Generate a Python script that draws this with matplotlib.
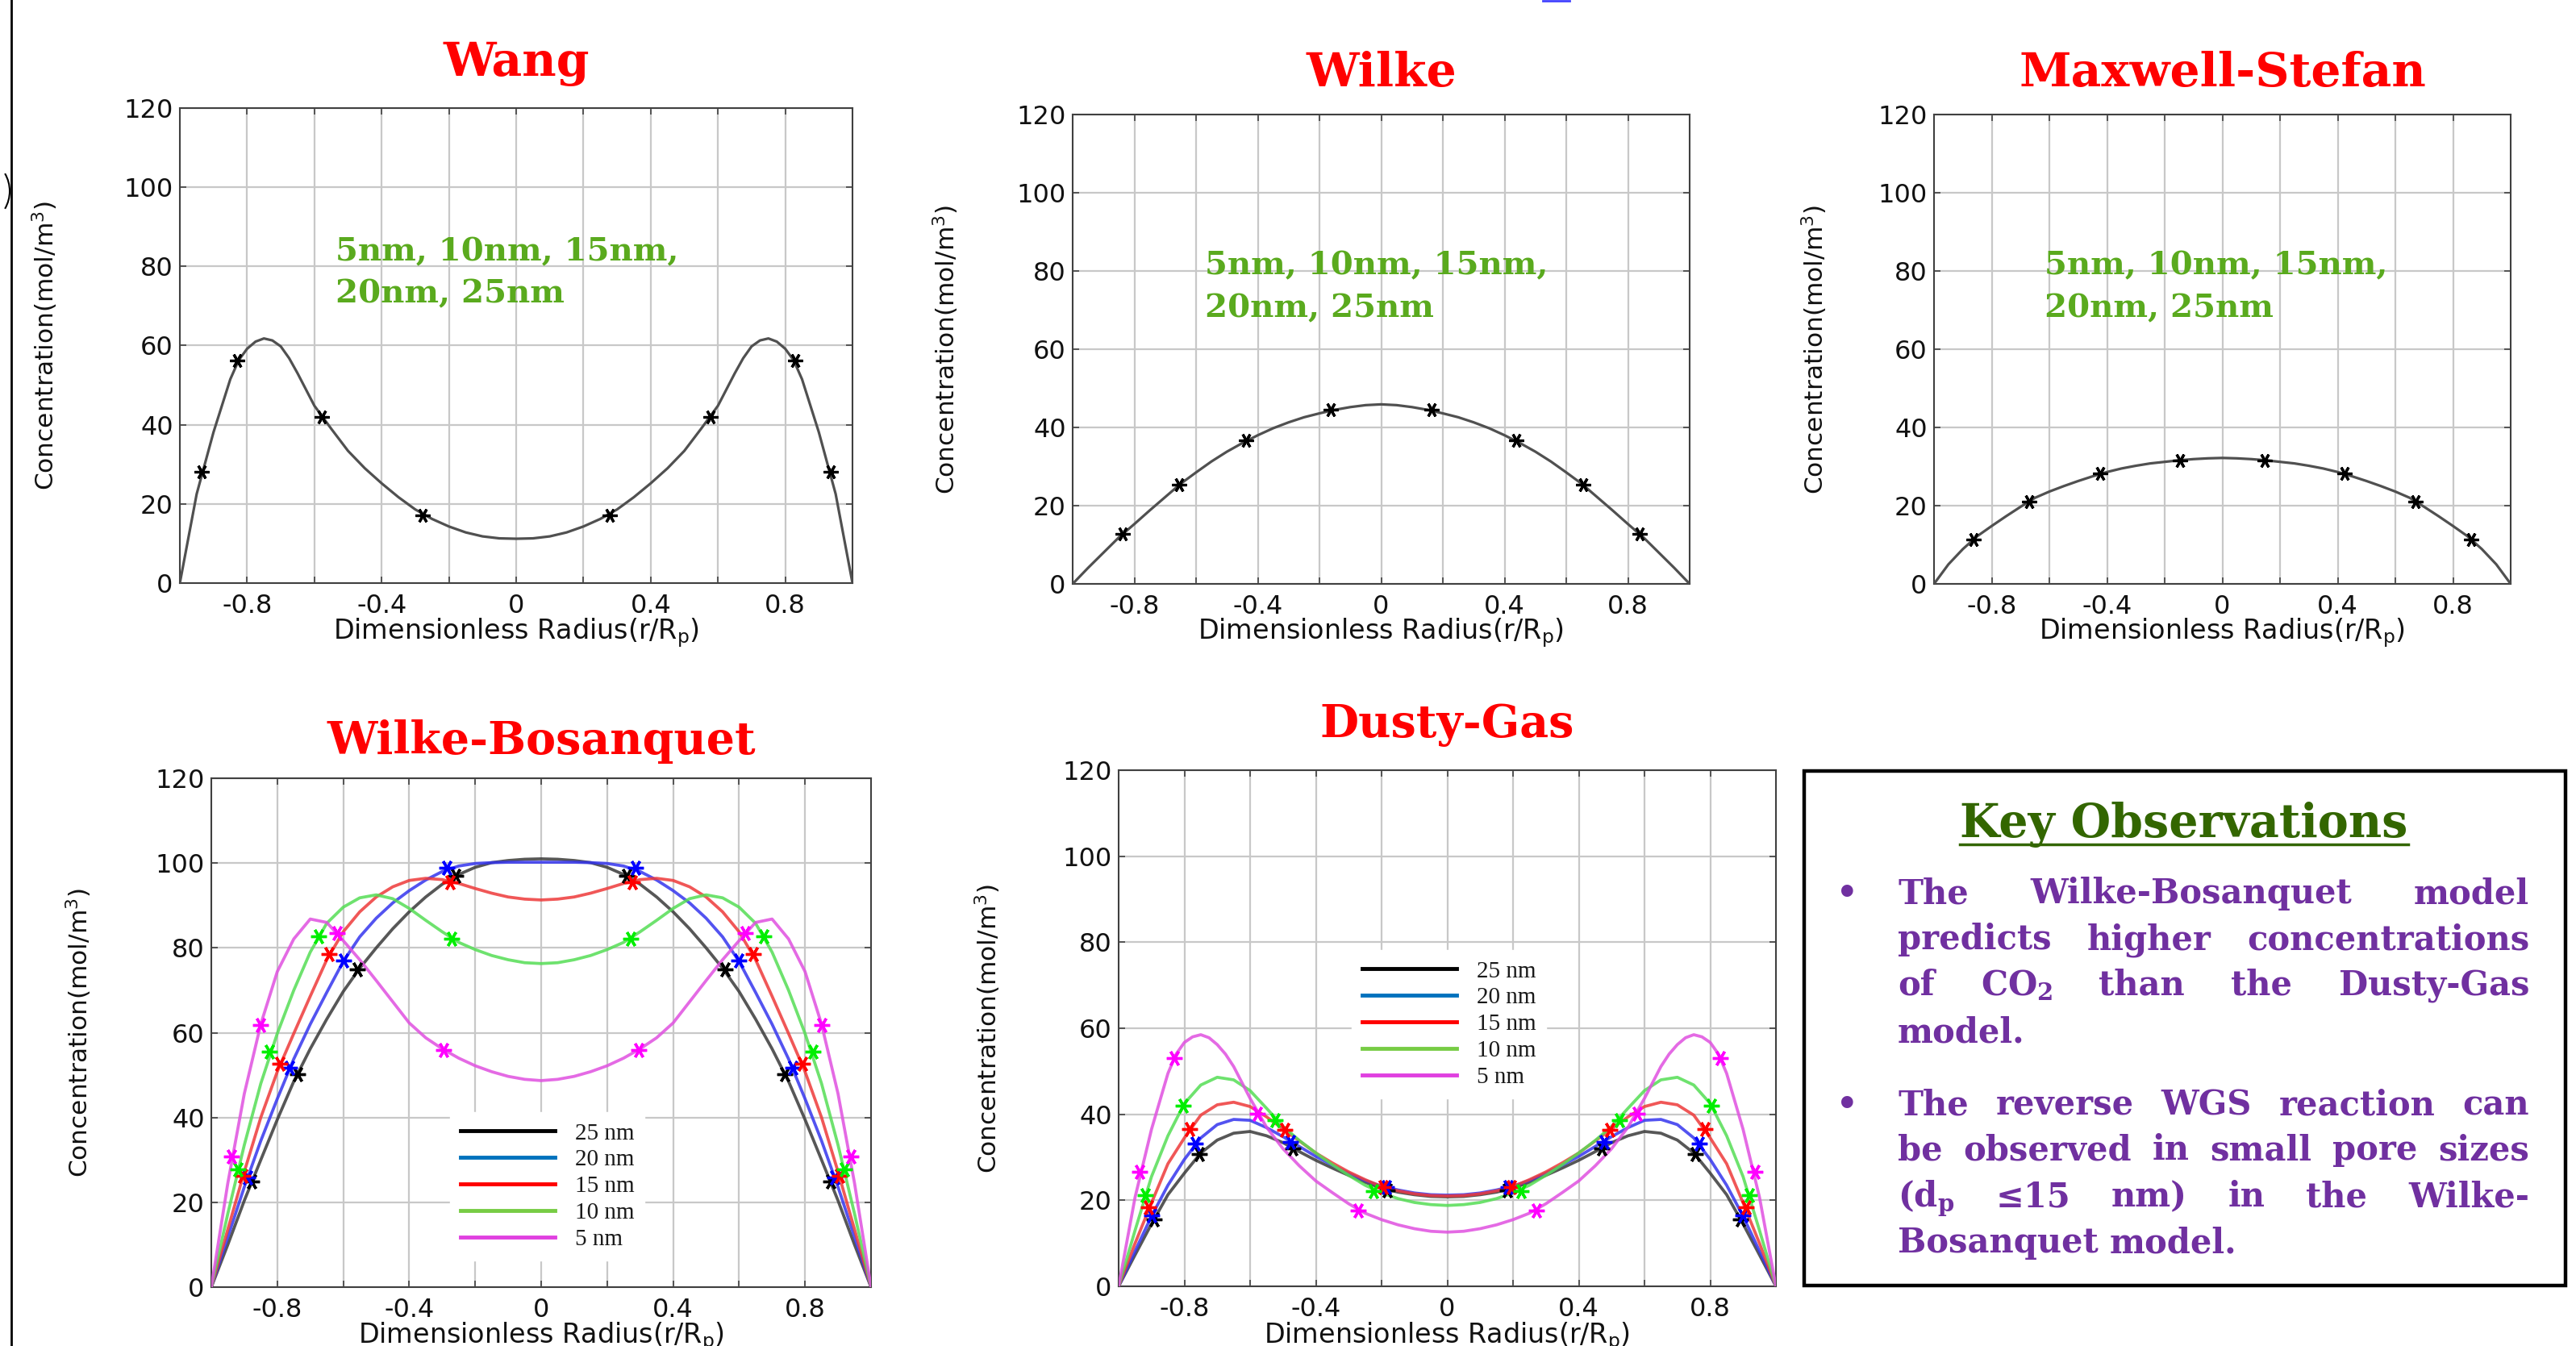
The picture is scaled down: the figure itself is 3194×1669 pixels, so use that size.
import matplotlib
matplotlib.use('Agg')
import matplotlib.pyplot as plt
from matplotlib.patches import Rectangle, Arc
from matplotlib.lines import Line2D
from matplotlib.ticker import FixedLocator, FixedFormatter

# ---------------- data ----------------
RADIUS = [-1.0, -0.95, -0.9, -0.85, -0.8, -0.75, -0.7, -0.65, -0.6, -0.55, -0.5,
          -0.45, -0.4, -0.35, -0.3, -0.25, -0.2, -0.15, -0.1, -0.05, 0.0,
          0.05, 0.1, 0.15, 0.2, 0.25, 0.3, 0.35, 0.4, 0.45, 0.5,
          0.55, 0.6, 0.65, 0.7, 0.75, 0.8, 0.85, 0.9, 0.95, 1.0]

# Wang and Dusty-Gas 5 nm have sharper peaks, so they are read at extra radii
PEAK_RADIUS = [-1.0, -0.95, -0.9, -0.85, -0.825, -0.8, -0.775, -0.75, -0.725, -0.7, -0.675, -0.65, -0.6, -0.55, -0.5,
               -0.45, -0.4, -0.35, -0.3, -0.25, -0.2, -0.15, -0.1, -0.05, 0.0,
               0.05, 0.1, 0.15, 0.2, 0.25, 0.3, 0.35, 0.4, 0.45, 0.5,
               0.55, 0.6, 0.65, 0.675, 0.7, 0.725, 0.75, 0.775, 0.8, 0.825, 0.85, 0.9, 0.95, 1.0]

WANG = [0, 22.5, 38.1, 51.5, 56.3, 59.2, 61.0, 61.8, 61.3, 59.8, 56.8, 53.0, 44.8, 39.0, 33.4,
        29.0, 25.2, 21.7, 18.6, 16.2, 14.3, 12.8, 11.8, 11.3, 11.2,
        11.3, 11.8, 12.8, 14.3, 16.2, 18.6, 21.7, 25.2, 29.0, 33.4,
        39.0, 44.8, 53.0, 56.8, 59.8, 61.3, 61.8, 61.0, 59.2, 56.3, 51.5, 38.1, 22.5, 0]
WILKE = [0, 4.1, 8.0, 11.9, 15.3, 18.8, 22.2, 25.6, 28.5, 31.3, 33.8, 36.0, 38.0, 39.8, 41.3, 42.6, 43.6, 44.5, 45.2, 45.7, 45.9,
         45.7, 45.2, 44.5, 43.6, 42.6, 41.3, 39.8, 38.0, 36.0, 33.8, 31.3, 28.5, 25.6, 22.2, 18.8, 15.3, 11.9, 8.0, 4.1, 0]
MAXSTEF = [0, 5.0, 8.9, 12.2, 14.8, 17.3, 19.7, 22.0, 23.6, 25.0, 26.3, 27.5, 28.6, 29.5, 30.2, 30.8, 31.2, 31.6, 31.9, 32.1, 32.2,
           32.1, 31.9, 31.6, 31.2, 30.8, 30.2, 29.5, 28.6, 27.5, 26.3, 25.0, 23.6, 22.0, 19.7, 17.3, 14.8, 12.2, 8.9, 5.0, 0]

WANG_MX = [-0.936, -0.83, -0.578, -0.278, 0.278, 0.578, 0.83, 0.936]
WANG_MY = [28.1, 56.2, 42.0, 17.2, 17.2, 42.0, 56.2, 28.1]
WILKE_MX = [-0.838, -0.655, -0.438, -0.163, 0.163, 0.438, 0.655, 0.838]
WILKE_MY = [12.8, 25.3, 36.6, 44.5, 44.5, 36.6, 25.3, 12.8]
MAXSTEF_MX = [-0.864, -0.671, -0.424, -0.147, 0.147, 0.424, 0.671, 0.864]
MAXSTEF_MY = [11.4, 21.1, 28.2, 31.6, 31.6, 28.2, 21.1, 11.4]

PORE_LABELS = ['25 nm', '20 nm', '15 nm', '10 nm', '5 nm']

WB_25 = [0, 10.0, 20.4, 30.0, 39.5, 48.5, 56.2, 63.2, 69.7, 75.2, 80.0, 84.5, 88.5, 92.0, 95.0, 97.3, 99.0, 100.1, 100.6, 100.9, 101.0,
         100.9, 100.6, 100.1, 99.0, 97.3, 95.0, 92.0, 88.5, 84.5, 80.0, 75.2, 69.7, 63.2, 56.2, 48.5, 39.5, 30.0, 20.4, 10.0, 0]
WB_20 = [0, 11.8, 23.6, 34.5, 44.4, 53.8, 62.0, 69.5, 76.8, 82.6, 87.0, 90.6, 93.5, 96.0, 98.0, 99.3, 99.9, 100.1, 100.2, 100.2, 100.2,
         100.2, 100.2, 100.1, 99.9, 99.3, 98.0, 96.0, 93.5, 90.6, 87.0, 82.6, 76.8, 69.5, 62.0, 53.8, 44.4, 34.5, 23.6, 11.8, 0]
WB_15 = [0, 13.6, 27.2, 40.0, 50.8, 59.8, 68.6, 77.2, 83.8, 88.5, 92.0, 94.4, 95.9, 96.4, 96.1, 95.2, 94.0, 92.9, 92.0, 91.5, 91.3,
         91.5, 92.0, 92.9, 94.0, 95.2, 96.1, 96.4, 95.9, 94.4, 92.0, 88.5, 83.8, 77.2, 68.6, 59.8, 50.8, 40.0, 27.2, 13.6, 0]
WB_10 = [0, 17.3, 33.5, 48.0, 59.8, 70.0, 79.0, 85.8, 89.6, 91.8, 92.5, 91.6, 89.3, 86.5, 83.8, 81.3, 79.6, 78.2, 77.2, 76.5, 76.3,
         76.5, 77.2, 78.2, 79.6, 81.3, 83.8, 86.5, 89.3, 91.6, 92.5, 91.8, 89.6, 85.8, 79.0, 70.0, 59.8, 48.0, 33.5, 17.3, 0]
WB_5 = [0, 24.5, 45.6, 62.0, 74.4, 82.1, 86.8, 86.0, 81.7, 77.2, 72.3, 67.3, 62.3, 58.8, 56.2, 54.0, 52.2, 50.8, 49.7, 49.0, 48.7,
        49.0, 49.7, 50.8, 52.2, 54.0, 56.2, 58.8, 62.3, 67.3, 72.3, 77.2, 81.7, 86.0, 86.8, 82.1, 74.4, 62.0, 45.6, 24.5, 0]

WB_MX_25 = [-0.878, -0.739, -0.558, -0.259, 0.259, 0.558, 0.739, 0.878]
WB_MY_25 = [25.0, 50.3, 75.0, 96.9, 96.9, 75.0, 50.3, 25.0]
WB_MX_20 = [-0.891, -0.762, -0.598, -0.285, 0.285, 0.598, 0.762, 0.891]
WB_MY_20 = [25.8, 51.8, 77.1, 98.8, 98.8, 77.1, 51.8, 25.8]
WB_MX_15 = [-0.904, -0.791, -0.642, -0.277, 0.277, 0.642, 0.791, 0.904]
WB_MY_15 = [26.2, 52.6, 78.6, 95.5, 95.5, 78.6, 52.6, 26.2]
WB_MX_10 = [-0.920, -0.824, -0.675, -0.271, 0.271, 0.675, 0.824, 0.920]
WB_MY_10 = [27.7, 55.5, 82.8, 82.1, 82.1, 82.8, 55.5, 27.7]
WB_MX_5 = [-0.939, -0.851, -0.618, -0.296, 0.296, 0.618, 0.851, 0.939]
WB_MY_5 = [30.8, 61.9, 83.5, 55.9, 55.9, 83.5, 61.9, 30.8]

DG_25 = [0, 7.3, 14.5, 21.3, 26.3, 31.0, 34.0, 35.6, 36.0, 35.0, 33.4, 31.3, 29.3, 27.5, 25.8, 24.2, 22.8, 21.9, 21.3, 20.9, 20.8,
         20.9, 21.3, 21.9, 22.8, 24.2, 25.8, 27.5, 29.3, 31.3, 33.4, 35.0, 36.0, 35.6, 34.0, 31.0, 26.3, 21.3, 14.5, 7.3, 0]
DG_20 = [0, 8.2, 16.3, 23.5, 29.5, 34.5, 37.6, 38.8, 38.6, 36.9, 34.8, 32.5, 30.2, 28.2, 26.3, 24.6, 23.3, 22.4, 21.7, 21.3, 21.2,
         21.3, 21.7, 22.4, 23.3, 24.6, 26.3, 28.2, 30.2, 32.5, 34.8, 36.9, 38.6, 38.8, 37.6, 34.5, 29.5, 23.5, 16.3, 8.2, 0]
DG_15 = [0, 10.0, 19.4, 28.5, 34.5, 39.8, 42.2, 42.8, 41.8, 39.4, 36.6, 33.8, 31.0, 28.7, 26.6, 24.8, 23.2, 22.2, 21.5, 21.1, 21.0,
         21.1, 21.5, 22.2, 23.2, 24.8, 26.6, 28.7, 31.0, 33.8, 36.6, 39.4, 41.8, 42.8, 42.2, 39.8, 34.5, 28.5, 19.4, 10.0, 0]
DG_10 = [0, 13.0, 25.5, 35.0, 42.5, 46.8, 48.6, 48.0, 45.5, 41.4, 37.2, 33.9, 31.0, 28.3, 25.8, 23.5, 21.7, 20.4, 19.5, 19.0, 18.8,
         19.0, 19.5, 20.4, 21.7, 23.5, 25.8, 28.3, 31.0, 33.9, 37.2, 41.4, 45.5, 48.0, 48.6, 46.8, 42.5, 35.0, 25.5, 13.0, 0]
# read on PEAK_RADIUS
DG_5 = [0, 20.7, 36.5, 49.5, 54.0, 56.7, 58.0, 58.5, 57.8, 56.2, 54.0, 51.1, 43.7, 37.0, 32.0,
        28.0, 24.5, 21.8, 19.2, 17.0, 15.5, 14.3, 13.4, 12.8, 12.6,
        12.8, 13.4, 14.3, 15.5, 17.0, 19.2, 21.8, 24.5, 28.0, 32.0,
        37.0, 43.7, 51.1, 54.0, 56.2, 57.8, 58.5, 58.0, 56.7, 54.0, 49.5, 36.5, 20.7, 0]

DG_MX_25 = [-0.893, -0.754, -0.469, -0.182, 0.182, 0.469, 0.754, 0.893]
DG_MY_25 = [15.5, 30.7, 32.1, 22.3, 22.3, 32.1, 30.7, 15.5]
DG_MX_20 = [-0.899, -0.766, -0.477, -0.186, 0.186, 0.477, 0.766, 0.899]
DG_MY_20 = [16.5, 33.2, 33.6, 23.0, 23.0, 33.6, 33.2, 16.5]
DG_MX_15 = [-0.909, -0.783, -0.495, -0.196, 0.196, 0.495, 0.783, 0.909]
DG_MY_15 = [18.3, 36.5, 36.3, 23.0, 23.0, 36.3, 36.5, 18.3]
DG_MX_10 = [-0.920, -0.803, -0.525, -0.225, 0.225, 0.525, 0.803, 0.920]
DG_MY_10 = [21.2, 42.0, 38.7, 22.2, 22.2, 38.7, 42.0, 21.2]
DG_MX_5 = [-0.936, -0.831, -0.577, -0.270, 0.270, 0.577, 0.831, 0.936]
DG_MY_5 = [26.6, 53.1, 40.2, 17.7, 17.7, 40.2, 53.1, 26.6]

X_GRID = [-0.8, -0.6, -0.4, -0.2, 0.0, 0.2, 0.4, 0.6, 0.8]
X_TICKLABELS = ['-0.8', '', '-0.4', '', '0', '', '0.4', '', '0.8']
Y_TICKS = [0, 20, 40, 60, 80, 100, 120]
Y_TICKLABELS = ['0', '20', '40', '60', '80', '100', '120']

# ---------------- styling ----------------
W, H = 3194, 1669
fig = plt.figure(figsize=(W / 100, H / 100), dpi=100)
fig.patch.set_facecolor('white')

AST = (6, 2, 90)
LINE_COLORS = ['#3a3a3a', '#3535ee', '#ee3a3a', '#55dd55', '#e050e0']
MARK_COLORS = ['#000000', '#0000ff', '#ff0000', '#00ee00', '#ff00ff']
LEG_COLORS = ['#000000', '#0072bd', '#ff0000', '#77cc44', '#e040e0']
RED = '#ff0000'
GREEN_TXT = '#5aaa1e'
PURPLE = '#7030a0'
DKGREEN = '#336600'


def fx(x):
    return x / W


def fy(y):
    return 1 - y / H


def add_ax(L, T, R, B):
    return fig.add_axes([L / W, 1 - B / H, (R - L) / W, (B - T) / H])


def style(ax, L, T, R, B, ylab_off, xlab_off):
    ax.set_xlim(-1, 1)
    ax.set_ylim(0, 120)
    ax.xaxis.set_major_locator(FixedLocator(X_GRID))
    ax.xaxis.set_major_formatter(FixedFormatter(X_TICKLABELS))
    ax.yaxis.set_major_locator(FixedLocator(Y_TICKS))
    ax.yaxis.set_major_formatter(FixedFormatter(Y_TICKLABELS))
    ax.grid(True, color='#c8c8c8', lw=1.6, zorder=0)
    ax.set_axisbelow(True)
    for s in ax.spines.values():
        s.set_color('#404040')
        s.set_linewidth(1.5)
    ax.tick_params(direction='in', length=6, width=1.2, color='#404040',
                   top=True, right=True, labelsize=23, labelcolor='#111111')
    ax.tick_params(axis='x', pad=9)
    ax.tick_params(axis='y', pad=6)
    ax.set_xlabel(r'Dimensionless Radius(r/R$_\mathrm{p}$)', fontsize=24, color='#111111')
    ax.set_ylabel('Concentration(mol/m$^3$)', fontsize=22.5, color='#111111')
    ax.xaxis.set_label_coords(0.5, -xlab_off / (B - T))
    ax.yaxis.set_label_coords(-ylab_off / (R - L), 0.5)


def title(text, cx, base, size):
    fig.text(fx(cx), fy(base), text, ha='center', va='baseline', fontsize=size,
             fontweight='bold', family='DejaVu Serif', color=RED)


# ---------------- top row ----------------
top_panels = [
    ('Wang', (223, 134, 1057, 723), 94, 149, 41, PEAK_RADIUS, WANG, WANG_MX, WANG_MY, 0.232, (0.679, 0.591)),
    ('Wilke', (1330, 142, 2095, 724), 107, 139, 40, RADIUS, WILKE, WILKE_MX, WILKE_MY, 0.215, (0.660, 0.568)),
    ('Maxwell-Stefan', (2398, 142, 3113, 724), 107, 130, 40, RADIUS, MAXSTEF, MAXSTEF_MX, MAXSTEF_MY, 0.192, (0.660, 0.568)),
]
for name, (L, T, R, B), tb, yoff, xoff, xs, ys, mx, my, ax_x, (l1, l2) in top_panels:
    ax = add_ax(L, T, R, B)
    style(ax, L, T, R, B, yoff, xoff)
    ax.plot(xs, ys, color='#505050', lw=2.3, zorder=3, solid_joinstyle='round')
    ax.plot(mx, my, ls='none', marker=AST, ms=13, mew=2.3, color='black', zorder=4)
    ax.text(ax_x, l1, '5nm, 10nm, 15nm,', transform=ax.transAxes, fontsize=29,
            fontweight='bold', family='DejaVu Serif', color=GREEN_TXT, va='baseline', ha='left')
    ax.text(ax_x, l2, '20nm, 25nm', transform=ax.transAxes, fontsize=29,
            fontweight='bold', family='DejaVu Serif', color=GREEN_TXT, va='baseline', ha='left')
    title(name, (L + R) / 2, tb, 42)

# ---------------- bottom row ----------------
bottom_panels = [
    ('Wilke-Bosanquet', (262, 965, 1080, 1596), 935, 146, 41,
     [(RADIUS, WB_25), (RADIUS, WB_20), (RADIUS, WB_15), (RADIUS, WB_10), (RADIUS, WB_5)],
     [(WB_MX_25, WB_MY_25), (WB_MX_20, WB_MY_20), (WB_MX_15, WB_MY_15), (WB_MX_10, WB_MY_10), (WB_MX_5, WB_MY_5)],
     (558, 1379)),
    ('Dusty-Gas', (1387, 955, 2202, 1595), 914, 144, 42,
     [(RADIUS, DG_25), (RADIUS, DG_20), (RADIUS, DG_15), (RADIUS, DG_10), (PEAK_RADIUS, DG_5)],
     [(DG_MX_25, DG_MY_25), (DG_MX_20, DG_MY_20), (DG_MX_15, DG_MY_15), (DG_MX_10, DG_MY_10), (DG_MX_5, DG_MY_5)],
     (1676, 1178)),
]
for name, (L, T, R, B), tb, yoff, xoff, curves, marks, (lgx, lgy) in bottom_panels:
    ax = add_ax(L, T, R, B)
    style(ax, L, T, R, B, yoff, xoff)
    for (xs, ys), lc in zip(curves, LINE_COLORS):
        ax.plot(xs, ys, color=lc, lw=2.7, alpha=0.85, zorder=3, solid_joinstyle='round')
    for (mx, my), mc in zip(marks, MARK_COLORS):
        ax.plot(mx, my, ls='none', marker=AST, ms=14, mew=2.4, color=mc, zorder=4)
    handles = [Line2D([], [], color=c, lw=3.5) for c in LEG_COLORS]
    leg = ax.legend(handles, PORE_LABELS, loc='upper left',
                    bbox_to_anchor=((lgx - L) / (R - L), (B - lgy) / (B - T)),
                    borderaxespad=0, frameon=True, fancybox=False, framealpha=1,
                    edgecolor='white', facecolor='white',
                    prop={'family': 'Liberation Serif', 'size': 21},
                    handlelength=4.0, handletextpad=0.85, labelspacing=0.22, borderpad=0.45)
    for t in leg.get_texts():
        t.set_color('#1a1a1a')
    leg.set_zorder(5)
    title(name, (L + R) / 2, tb, 40)

# ---------------- Key observations box ----------------
bx0, by0, bx1, by1 = 2237, 956, 3181, 1594
fig.add_artist(Rectangle((fx(bx0), fy(by1)), (bx1 - bx0) / W, (by1 - by0) / H,
                         transform=fig.transFigure, fill=False, edgecolor='black', lw=3.2))

renderer = fig.canvas.get_renderer()
kt = fig.text(fx(2708), fy(1038), 'Key Observations', ha='center', va='baseline', fontsize=41,
              fontweight='bold', family='DejaVu Serif', color=DKGREEN)
bb = kt.get_window_extent(renderer)
fig.add_artist(Line2D([bb.x0 / W, bb.x1 / W], [fy(1047), fy(1047)], transform=fig.transFigure,
                      color=DKGREEN, lw=2.5))

BOX_FS = 30
TX0, TX1 = 2353, 3136


def place_line(words, y, justify=True):
    ts = [fig.text(0, 0, w, fontsize=BOX_FS, fontweight='bold', family='DejaVu Serif',
                   color=PURPLE, math_fontfamily='dejavuserif', va='baseline', ha='left')
          for w in words]
    ws = [t.get_window_extent(renderer).width for t in ts]
    if justify and len(ws) > 1:
        gap = (TX1 - TX0 - sum(ws)) / (len(ws) - 1)
    else:
        gap = 0.33 * BOX_FS / 0.72
    x = TX0
    for t, w in zip(ts, ws):
        t.set_position((fx(x), fy(y)))
        x += w + gap


para1 = [(['The', 'Wilke-Bosanquet', 'model'], 1120, True),
         (['predicts', 'higher', 'concentrations'], 1177, True),
         (['of', r'CO$_\mathbf{2}$', 'than', 'the', 'Dusty-Gas'], 1234, True),
         (['model.'], 1292, False)]
para2 = [(['The', 'reverse', 'WGS', 'reaction', 'can'], 1382, True),
         (['be', 'observed', 'in', 'small', 'pore', 'sizes'], 1438, True),
         ([r'(d$_\mathbf{p}$', '\u226415', 'nm)', 'in', 'the', 'Wilke-'], 1496, True),
         (['Bosanquet', 'model.'], 1553, False)]
for words, y, j in para1 + para2:
    place_line(words, y, j)
for y in (1120, 1382):
    fig.text(fx(2290), fy(y), '\u2022', ha='center', va='baseline', fontsize=BOX_FS,
             fontweight='bold', family='DejaVu Serif', color=PURPLE)

# ---------------- page decorations ----------------
fig.add_artist(Line2D([fx(14), fx(14)], [0, 1], transform=fig.transFigure, color='black', lw=2))
fig.add_artist(Arc((fx(-31.5), fy(237)), 87 / W, 87 / H, theta1=-48, theta2=48,
                   transform=fig.transFigure, color='black', lw=1.5))
fig.add_artist(Line2D([fx(1913), fx(1946)], [fy(1), fy(1)], transform=fig.transFigure,
                      color='#4444ff', lw=2))

fig.savefig('out.png', dpi=100, facecolor='white')
